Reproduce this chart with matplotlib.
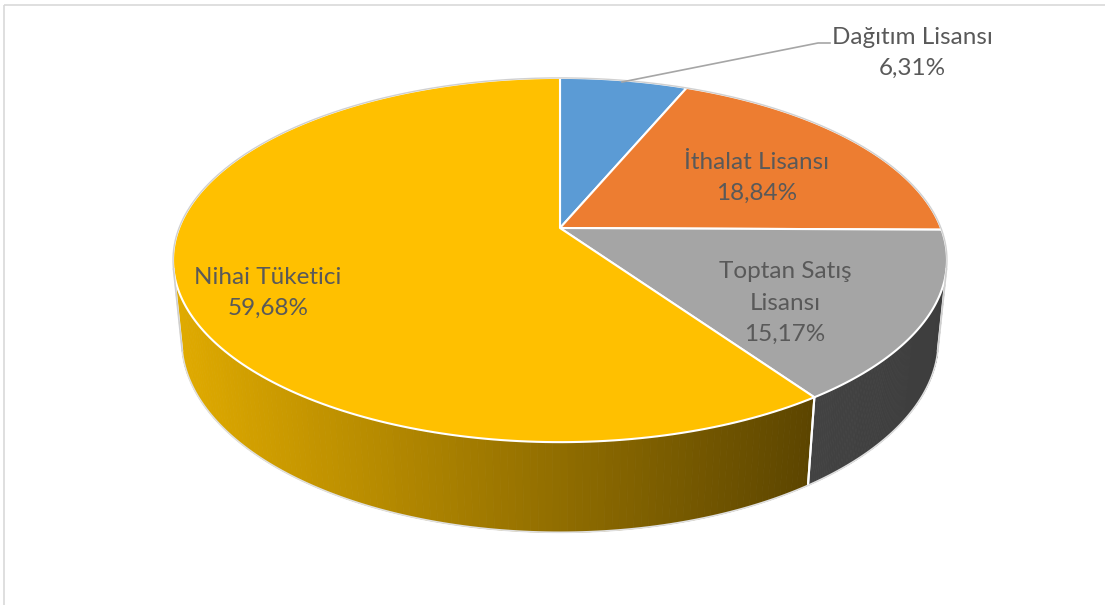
import numpy as np
import matplotlib
matplotlib.use("Agg")
import matplotlib.pyplot as plt
from matplotlib.patches import Polygon, Rectangle

# Data
categories = ["Dağıtım Lisansı", "İthalat Lisansı", "Toptan Satış\nLisansı", "Nihai Tüketici"]
shares = [6.31, 18.84, 15.17, 59.68]

top_colors = ["#5B9BD5", "#ED7D31", "#A5A5A5", "#FFC000"]
# side wall colours, left to right (gradient stops)
side_colors = [
    [(0.36, 0.61, 0.84), (0.36, 0.61, 0.84)],
    [(0.93, 0.49, 0.19), (0.93, 0.49, 0.19)],
    [(0.26, 0.26, 0.26), (0.24, 0.24, 0.24)],
    [(0.88, 0.67, 0.0), (0.36, 0.27, 0.0)],
]

# Label anchor points (pixel coords) and text colour
label_pos = [(912, 53), (757, 178), (785, 303), (268, 293)]
text_color = "#595959"

# Fake 3D perspective setup
CX, CY = 560, 228
ELEV = np.radians(27.6)
DIST = 5.04
FOCAL = 1920
DEPTH = 0.24


def project(t, z=0.0):
    t = np.asarray(t, dtype=float)
    x = np.cos(t)
    y = np.sin(t)
    v = y * np.sin(ELEV) + z * np.cos(ELEV)
    w = y * np.cos(ELEV) - z * np.sin(ELEV)
    return CX + FOCAL * x / (DIST + w), CY - FOCAL * v / (DIST + w)


fig = plt.figure(figsize=(11.05, 6.05), dpi=100)
ax = fig.add_axes([0, 0, 1, 1])
ax.set_xlim(0, 1105)
ax.set_ylim(605, 0)
ax.axis("off")

# chart frame
ax.add_patch(Rectangle((3.5, 4.5), 1200, 700, fill=False, ec="#D9D9D9", lw=1.2))

# slice angles, starting at 12 o'clock, clockwise
bounds = np.radians(90 - np.concatenate([[0], np.cumsum(shares)]) * 3.6)

# visible part of the side wall (tangent points seen from the camera)
t_sil = np.arcsin(-1.0 / (DIST * np.cos(ELEV)))
vis_lo = -np.pi - t_sil
vis_hi = t_sil

# Side walls
for i in range(len(shares)):
    hi, lo = bounds[i], bounds[i + 1]
    a = max(lo, vis_lo)
    b = min(hi, vis_hi)
    if a >= b:
        continue
    ts = np.linspace(a, b, 120)
    xt, yt = project(ts, 0)
    xb, yb = project(ts, -DEPTH)
    x0, x1 = xt.min(), xt.max()
    c0 = np.array(side_colors[i][0])
    c1 = np.array(side_colors[i][1])
    for k in range(len(ts) - 1):
        f = ((xt[k] + xt[k + 1]) / 2 - x0) / max(x1 - x0, 1)
        col = c0 + (c1 - c0) * f
        quad = [(xt[k], yt[k]), (xt[k + 1], yt[k + 1]), (xb[k + 1], yb[k + 1]), (xb[k], yb[k])]
        ax.add_patch(Polygon(quad, closed=True, fc=col, ec=col, lw=0.6))
    # edge lines of this wall
    ax.plot([xt[0], xb[0]], [yt[0], yb[0]], color="white", lw=1.5)
    ax.plot([xt[-1], xb[-1]], [yt[-1], yb[-1]], color="white", lw=1.5)
    ax.plot(xb, yb, color="#E0E0E0", lw=1.2)

# outline of the walls at the silhouette
for t in (vis_lo, vis_hi):
    xa, ya = project(t, 0)
    xb_, yb_ = project(t, -DEPTH)
    ax.plot([xa, xb_], [ya, yb_], color="#CFCFCF", lw=1.2)

# Top face
for i in range(len(shares)):
    ts = np.linspace(bounds[i], bounds[i + 1], 200)
    xs, ys = project(ts, 0)
    pts = [(CX, CY)] + list(zip(xs, ys))
    ax.add_patch(Polygon(pts, closed=True, fc=top_colors[i], ec="white", lw=1.5, joinstyle="round"))

# faint outline around the back of the top face
ts = np.linspace(vis_hi, vis_lo + 2 * np.pi, 300)
xs, ys = project(ts, 0)
ax.plot(xs, ys, color="#D0D0D0", lw=1.0)

# Labels
font = dict(family="Lato", size=17.5, color=text_color, ha="center", va="center", linespacing=1.6)
for i, name in enumerate(categories):
    txt = name + "\n" + f"{shares[i]:.2f}".replace(".", ",") + "%"
    ax.text(label_pos[i][0], label_pos[i][1], txt, **font)

# leader line for the small slice
ax.plot([622, 818, 830], [82, 43, 43], color="#A6A6A6", lw=1.2)

fig.savefig("out.png", dpi=100)
plt.close(fig)
